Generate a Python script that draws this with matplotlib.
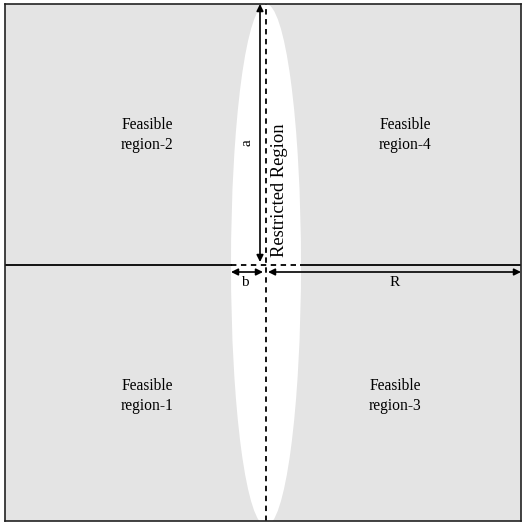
import numpy as np
import matplotlib.pyplot as plt
from matplotlib.patches import Ellipse

plt.rcParams['font.family'] = ['Liberation Serif', 'DejaVu Serif']

# geometry (arbitrary units, origin at centre of restricted region)
x_left, x_right = -261, 255
y_bottom, y_top = -256, 261
a = 261          # semi-axis along y
b = 35           # semi-axis along x
R = 255

region_labels = ["Feasible\nregion-1", "Feasible\nregion-2",
                 "Feasible\nregion-3", "Feasible\nregion-4"]
label_x = [-119, -119, 129, 139]
label_y = [-131, 130, -131, 130]

fig = plt.figure(figsize=(5.22, 5.25), dpi=100)
ax = fig.add_axes([5 / 522, 4 / 525, 516 / 522, 517 / 525])
ax.set_xlim(x_left, x_right)
ax.set_ylim(y_bottom, y_top)
ax.set_facecolor('#e4e4e4')
ax.set_xticks([])
ax.set_yticks([])
for s in ax.spines.values():
    s.set_linewidth(1.2)
    s.set_color('#222222')

# restricted region
ax.add_patch(Ellipse((0, 0), 2 * b, 2 * a, facecolor='white', edgecolor='none'))

# axes lines
ax.plot([x_left, -b], [0, 0], color='black', lw=1.3)
ax.plot([b, x_right], [0, 0], color='black', lw=1.3)
ax.plot([-b, b], [0, 0], color='black', lw=1.3, ls=(0, (3, 2.5)))
ax.plot([0, 0], [y_bottom, y_top], color='black', lw=1.3, ls=(0, (3, 2.5)))

arrow = dict(arrowstyle='<|-|>', color='black', lw=1.2, mutation_scale=10,
             shrinkA=0, shrinkB=0)
ax.annotate('', xy=(-6, a), xytext=(-6, 3), arrowprops=arrow)
ax.annotate('', xy=(-b, -7), xytext=(-3, -7), arrowprops=arrow)
ax.annotate('', xy=(2, -7), xytext=(R, -7), arrowprops=arrow)

ax.text(-19, 122, 'a', rotation=90, ha='center', va='center', fontsize=11)
ax.text(14, 75, 'Restricted Region', rotation=90, ha='center', va='center', fontsize=13.3)
ax.text(-21, -18, 'b', ha='center', va='center', fontsize=11)
ax.text(129, -18, 'R', ha='center', va='center', fontsize=11)

for txt, x, y in zip(region_labels, label_x, label_y):
    ax.text(x, y, txt, ha='center', va='center', fontsize=11.2, linespacing=1.3)

fig.savefig('out.png', dpi=100)
